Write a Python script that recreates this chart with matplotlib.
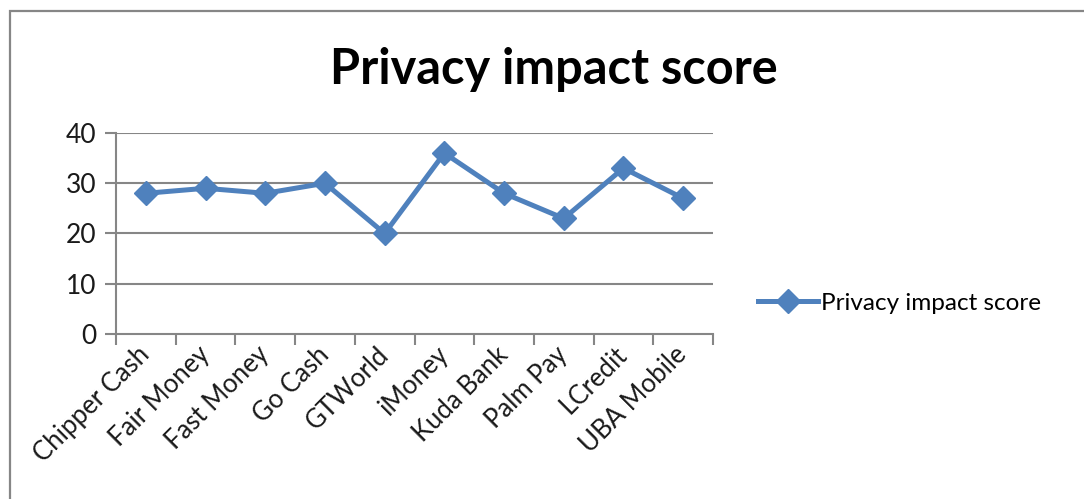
import numpy as np
import matplotlib.pyplot as plt
from matplotlib.patches import Rectangle

# 데이터
apps = ['Chipper Cash', 'Fair Money', 'Fast Money', 'Go Cash', 'GTWorld',
        'iMoney', 'Kuda Bank', 'Palm Pay', 'LCredit', 'UBA Mobile']
scores = [28, 29, 28, 30, 20, 36, 28, 23, 33, 27]
y_ticks = [0, 10, 20, 30, 40]

plt.rcParams['font.family'] = ['Lato', 'DejaVu Sans']

fig = plt.figure(figsize=(10.84, 4.99), dpi=100)
ax = fig.add_axes([116 / 1084, 1 - 334 / 499, (713 - 116) / 1084, (334 - 133) / 499])

grid_c = '#868686'
blue = '#4F81BD'

# 바깥 테두리 (왼쪽과 위만 보임)
fig.patches.append(Rectangle((10 / 1084, -0.2), 1.2, 1.2 - 11 / 499, transform=fig.transFigure,
                             fill=False, edgecolor=grid_c, linewidth=1.6, zorder=0))

x = np.arange(len(apps))
ax.plot(x, scores, color=blue, linewidth=3.6, marker='D', markersize=12.5,
        markeredgecolor=blue, label='Privacy impact score', zorder=3, clip_on=False)

ax.set_xlim(-0.5, len(apps) - 0.5)
ax.set_ylim(0, 40)
ax.set_yticks(y_ticks)
for yv in y_ticks[1:]:
    ax.axhline(yv, color=grid_c, linewidth=1.5, zorder=1)

# x축 눈금은 경계에, 라벨은 가운데
ax.set_xticks(np.arange(-0.5, len(apps)), minor=False)
ax.set_xticklabels([])
ax.set_xticks(x, minor=True)
ax.set_xticklabels(apps, minor=True, rotation=45, ha='right', va='center',
                   rotation_mode='anchor', fontsize=18.5, color='#1a1a1a')
ax.tick_params(axis='x', which='major', length=8, width=1.5, color=grid_c)
ax.tick_params(axis='x', which='minor', length=0, pad=12)
ax.tick_params(axis='y', length=8, width=1.5, color=grid_c, labelsize=19,
               labelcolor='#1a1a1a', pad=6)

for s in ['top', 'right']:
    ax.spines[s].set_visible(False)
for s in ['left', 'bottom']:
    ax.spines[s].set_color(grid_c)
    ax.spines[s].set_linewidth(1.5)

fig.text(554 / 1084, 1 - 70 / 499, 'Privacy impact score', ha='center', va='center',
         fontsize=35, fontweight='bold', color='black')

leg = ax.legend(loc='center left', bbox_to_anchor=(746 / 1084, 1 - 303 / 499),
                bbox_transform=fig.transFigure, frameon=False, fontsize=17.5,
                handlelength=2.45, handletextpad=0.15, borderpad=0)

fig.savefig('out.png', dpi=100, facecolor='white')
